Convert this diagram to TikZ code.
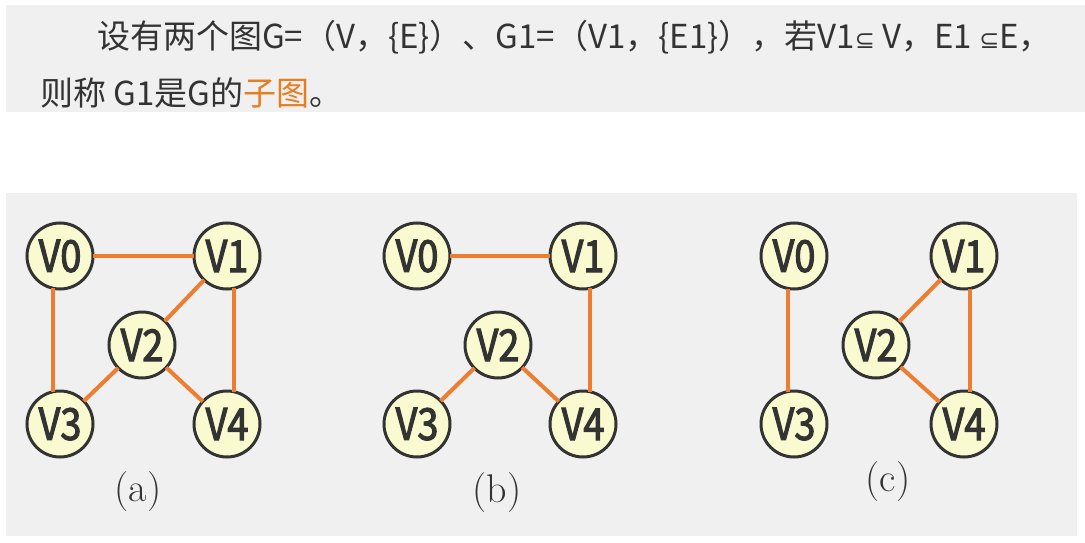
\documentclass[tikz,border=0pt]{standalone}
\usepackage{fontspec}
\newfontfamily\cjk{Noto Sans CJK SC}
\newfontfamily\vfont[FakeStretch=0.86,FakeBold=2.5]{Noto Sans CJK SC}
\newfontfamily\symfont{DejaVu Sans}
\usetikzlibrary{arrows}
\definecolor{cf0f0f0}{RGB}{240,240,240}
\definecolor{ced7d31}{RGB}{237,125,49}
\definecolor{ce67e22}{RGB}{230,126,34}
\definecolor{cfafad0}{RGB}{250,250,208}
\definecolor{c333333}{RGB}{51,51,51}
\newcommand{\sbq}{{\symfont\fontsize{24}{24}\selectfont ⊆}}

\begin{document}
\begin{tikzpicture}[y=-1pt, x=1pt, inner sep=0pt, outer sep=0pt,
  vtx/.style={circle,draw=c333333,line width=3pt,fill=cfafad0,minimum size=66pt,
    text=c333333,font=\vfont\fontsize{44}{44}\selectfont},
  ed/.style={draw=ced7d31,line width=4pt},
  sublabel/.style={text=c333333,font=\fontsize{40}{40}\selectfont}]
  \useasboundingbox (0,0) rectangle (1085,543);
  \path[fill=cf0f0f0] (6,5) rectangle (1085,112);
  \path[fill=cf0f0f0] (6,193) rectangle (1077,536);

  % definition text
  \path (97,37) node[anchor=west,text=c333333,font=\cjk\fontsize{33}{33}\selectfont] (line1)
  {设有两个图G=（V，\{E\}）、G1=（V1，\{E1\}），若V1\sbq\ V，E1 \sbq E，};
  \path (40,93) node[anchor=west,text=c333333,font=\cjk\fontsize{33}{33}\selectfont] (line2)
  {则称 G1是G的\textcolor{ce67e22}{子图}。};

  % graph (a)
  \node[vtx] (a0) at (60,256) {V0};
  \node[vtx] (a1) at (227,256) {V1};
  \node[vtx] (a2) at (142,345) {V2};
  \node[vtx] (a3) at (60,424) {V3};
  \node[vtx] (a4) at (227,424) {V4};
  \path[ed] (a0) -- (a1);
  \path[ed] (a0.258) -- (a3.102);
  \path[ed] (a1.282) -- (a4.78);
  \path[ed] (a1) -- (a2);
  \path[ed] (a2) -- (a3);
  \path[ed] (a2) -- (a4);
  \node[sublabel] (capa) at (138,492) {(a)};

  % graph (b)
  \node[vtx] (b0) at (417,256) {V0};
  \node[vtx] (b1) at (583,256) {V1};
  \node[vtx] (b2) at (498,345) {V2};
  \node[vtx] (b3) at (417,424) {V3};
  \node[vtx] (b4) at (583,424) {V4};
  \path[ed] (b0) -- (b1);
  \path[ed] (b1.282) -- (b4.78);
  \path[ed] (b2) -- (b3);
  \path[ed] (b2) -- (b4);
  \node[sublabel] (capb) at (497,493) {(b)};

  % graph (c)
  \node[vtx] (c0) at (794,256) {V0};
  \node[vtx] (c1) at (964,256) {V1};
  \node[vtx] (c2) at (876,345) {V2};
  \node[vtx] (c3) at (794,424) {V3};
  \node[vtx] (c4) at (964,424) {V4};
  \path[ed] (c0.260) -- (c3.100);
  \path[ed] (c1.280) -- (c4.80);
  \path[ed] (c1) -- (c2);
  \path[ed] (c2) -- (c4);
  \node[sublabel] (capc) at (888,482) {(c)};
\end{tikzpicture}
\end{document}
